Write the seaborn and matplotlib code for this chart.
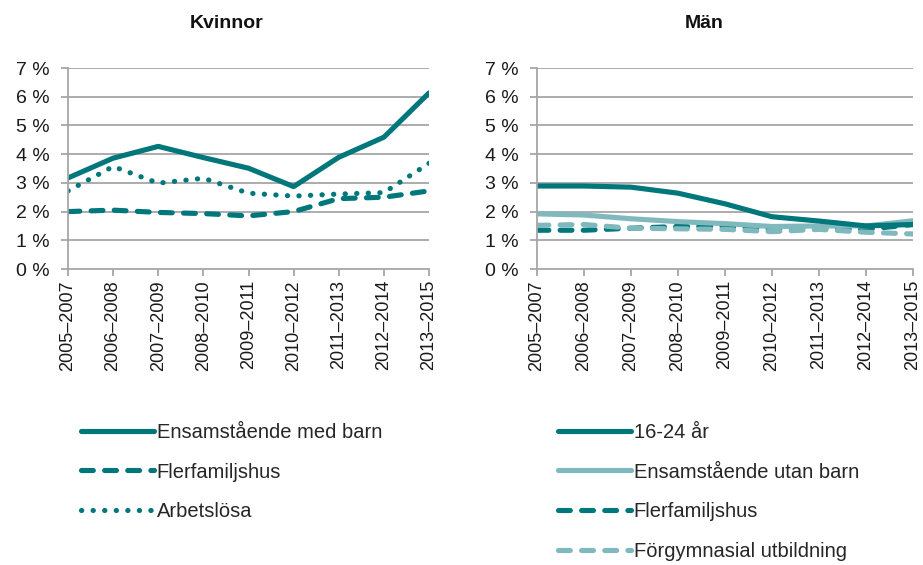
import matplotlib
matplotlib.use("Agg")
import matplotlib.pyplot as plt
import seaborn as sns
import pandas as pd
from matplotlib.lines import Line2D

periods = ["2005–2007", "2006–2008", "2007–2009", "2008–2010", "2009–2011",
           "2010–2012", "2011–2013", "2012–2014", "2013–2015"]

# Kvinnor
k_ensam_med_barn = [3.17, 3.86, 4.27, 3.88, 3.51, 2.87, 3.89, 4.59, 6.13]
k_flerfam = [2.00, 2.05, 1.97, 1.93, 1.85, 2.00, 2.45, 2.50, 2.72]
k_arbetslosa = [2.72, 3.57, 2.99, 3.16, 2.64, 2.54, 2.61, 2.66, 3.68]

# Män
m_16_24 = [2.89, 2.89, 2.85, 2.64, 2.27, 1.82, 1.67, 1.50, 1.55]
m_ensam_utan_barn = [1.92, 1.88, 1.75, 1.65, 1.58, 1.48, 1.50, 1.50, 1.68]
m_flerfam = [1.35, 1.35, 1.42, 1.48, 1.50, 1.40, 1.45, 1.38, 1.55]
m_forgymn = [1.52, 1.55, 1.42, 1.40, 1.38, 1.30, 1.38, 1.28, 1.22]

yticks = [0, 1, 2, 3, 4, 5, 6, 7]
ytick_labels = ["0 %", "1 %", "2 %", "3 %", "4 %", "5 %", "6 %", "7 %"]

DARK = "#00777A"
LIGHT = "#7FB9BD"
GRID = "#A6A6A6"
TXT = "#1a1a1a"

sns.set_theme(style="white")
plt.rcParams["font.family"] = ["Liberation Sans", "DejaVu Sans"]

fig = plt.figure(figsize=(9.23, 5.65), dpi=100)
axL = fig.add_axes([68/923, 1-269/565, (429-68)/923, (269-68)/565])
axR = fig.add_axes([537/923, 1-269/565, (913-537)/923, (269-68)/565])

LW = 3.7
DASH = [2.3, 2.2]
DOT = [0.05, 2.2]

def style_line(l, style):
    if style == "solid":
        l.set_solid_capstyle("round")
        l.set_solid_joinstyle("round")
    elif style == "dash":
        l.set_dashes(DASH)
        l.set_dash_capstyle("round")
    else:
        l.set_dashes(DOT)
        l.set_dash_capstyle("round")

def draw(ax, values, color, style):
    df = pd.DataFrame({"x": list(range(len(periods))), "y": values})
    sns.lineplot(data=df, x="x", y="y", color=color, linewidth=LW, ax=ax,
                 legend=False)
    style_line(ax.lines[-1], style)

# Left
draw(axL, k_flerfam, DARK, "dash")
draw(axL, k_arbetslosa, DARK, "dot")
draw(axL, k_ensam_med_barn, DARK, "solid")
# Right
draw(axR, m_flerfam, DARK, "dash")
draw(axR, m_forgymn, LIGHT, "dash")
draw(axR, m_ensam_utan_barn, LIGHT, "solid")
draw(axR, m_16_24, DARK, "solid")

for ax in (axL, axR):
    ax.set_xlim(0, len(periods) - 1)
    ax.set_ylim(0, 7)
    ax.set_yticks(yticks)
    ax.set_yticklabels(ytick_labels, fontsize=14, color=TXT)
    ax.set_xticks(range(len(periods)))
    ax.set_xticklabels(periods, rotation=90, fontsize=13, color=TXT)
    ax.set_xlabel("")
    ax.set_ylabel("")
    ax.grid(False)
    for y in yticks[1:]:
        ax.axhline(y, color=GRID, linewidth=1.3, zorder=0)
    for s in ("top", "right"):
        ax.spines[s].set_visible(False)
    for s in ("left", "bottom"):
        ax.spines[s].set_color(GRID)
        ax.spines[s].set_linewidth(1.3)
    ax.tick_params(axis="both", which="both", direction="out", length=5,
                   width=1.3, color=GRID, left=True, bottom=True, pad=3)
    ax.tick_params(axis="y", pad=8)
    ax.set_facecolor("none")

fig.text(227/923, 1-24/565, "Kvinnor", fontsize=14, fontweight="bold",
         ha="center", va="center", color="#111111")
fig.text(704/923, 1-24/565, "Män", fontsize=14, fontweight="bold",
         ha="center", va="center", color="#111111")

def handle(color, style):
    h = Line2D([0], [0], color=color, linewidth=LW)
    style_line(h, style)
    return h

leg_kw = dict(loc="upper left", frameon=False, fontsize=14.5, handlelength=3.6,
              handletextpad=0.15, labelspacing=1.02, borderaxespad=0,
              borderpad=0)
fig.legend(
    handles=[handle(DARK, "solid"), handle(DARK, "dash"), handle(DARK, "dot")],
    labels=["Ensamstående med barn", "Flerfamiljshus", "Arbetslösa"],
    bbox_to_anchor=(81/923, 1-423/565), **leg_kw)
fig.legend(
    handles=[handle(DARK, "solid"), handle(LIGHT, "solid"),
             handle(DARK, "dash"), handle(LIGHT, "dash")],
    labels=["16-24 år", "Ensamstående utan barn", "Flerfamiljshus",
            "Förgymnasial utbildning"],
    bbox_to_anchor=(558/923, 1-423/565), **leg_kw)

fig.savefig("out.png", dpi=100)
